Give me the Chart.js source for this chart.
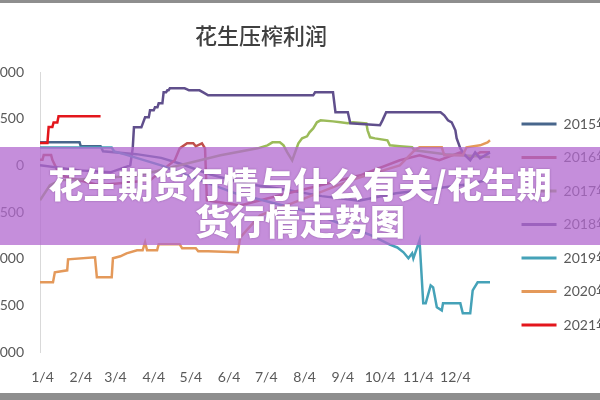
<!DOCTYPE html>
<html>
<head>
<meta charset="utf-8">
<script src="https://cdn.jsdelivr.net/npm/chart.js@4.4.1/dist/chart.umd.min.js"></script>
<style>
  html, body { margin: 0; padding: 0; }
  body { width: 600px; height: 400px; overflow: hidden; background: #8e8e8e; position: relative; }
  #panel { position: absolute; left: 0; top: 3px; width: 600px; height: 390px; background: #fff; overflow: hidden; }
  #c { position: absolute; left: -20px; top: 0; }
  #title { position: absolute; left: 0; width: 522px; top: 17px; text-align: center;
    font: 500 22px "Noto Sans CJK SC"; color: #404040; line-height: 28px; }
  #banner { position: absolute; left: 0; top: 147px; width: 600px; height: 98px; box-sizing: border-box;
    padding-top: 17px; background: rgba(178, 104, 207, 0.75); color: #fff; text-align: center;
    font: 900 35px "Noto Sans CJK SC"; line-height: 37px; text-shadow: 0 0 2px rgba(90, 40, 110, 0.5); }
</style>
</head>
<body>
<div id="panel">
  <canvas id="c" width="640" height="390"></canvas>
  <div id="title">花生压榨利润</div>
</div>
<div id="banner">花生期货行情与什么有关/花生期<br>货行情走势图</div>
<script>
// x = day of year, y = profit
const tickDays = [4, 35, 63, 94, 124, 155, 185, 216, 247, 277, 308, 338];
const tickLabels = ['1/4', '2/4', '3/4', '4/4', '5/4', '6/4', '7/4', '8/4', '9/4', '10/4', '11/4', '12/4'];
const years = ['2015年', '2016年', '2017年', '2018年', '2019年', '2020年', '2021年'];

const days2015 = [2, 34, 35, 51, 53, 80, 100, 115, 140, 170, 200, 230, 260, 290, 320, 350, 366];
const vals2015 = [246, 246, 204, 204, 150, 120, 80, 20, -100, -200, -260, -330, -380, -300, -250, -200, -150];

const days2016 = [2, 4, 5, 11, 12, 18, 50, 91, 111, 115, 121, 126, 128, 133, 135.5, 137, 164, 196, 229, 261, 293, 309, 325, 342, 350, 358, 366];
const vals2016 = [60, 60, 110, 110, 60, -107, -214, -161, 54, 182, 236, 236, 204, 236, 182, -375, -429, -321, -214, -107, 54, 107, 54, 139, 75, 139, 139];

const days2017 = [2, 10, 18, 50, 83, 115, 148, 178, 186, 190, 196, 199, 202, 206, 211, 214, 218, 220, 223, 226, 229, 239, 245, 251, 255, 266, 267, 269, 273, 283, 285, 293, 303, 305, 330, 366];
const vals2017 = [-375, -214, -161, -139, -107, 0, 107, 182, 214, 246, 246, 214, 139, 54, 236, 289, 311, 354, 396, 461, 482, 471, 461, 450, 461, 450, 375, 300, 289, 268, 214, 204, 193, 161, 120, 90];

const days2018 = [2, 34, 59, 75, 77, 78, 84, 87, 90, 91, 94, 95, 97, 98, 101, 102, 104, 105, 106, 107, 119, 121, 122.5, 131, 134, 138, 223, 224.5, 239, 241, 251, 253, 277, 279, 282, 326, 329, 332, 335, 338, 339, 342, 346, 350, 354, 358, 366];
const vals2018 = [0, -54, -75, 0, 182, 407, 407, 514, 514, 589, 589, 621, 621, 664, 664, 782, 782, 804, 804, 825, 825, 814, 804, 804, 782, 750, 750, 782, 782, 568, 568, 450, 429, 482, 568, 568, 536, 482, 461, 375, 290, 182, 107, 54, 139, 75, 139];

const days2019 = [2, 60, 62, 70, 100, 130, 160, 190, 220, 250, 270, 285, 291, 296, 300, 303, 304, 309, 312, 314, 318, 320, 323, 327, 328, 342, 344, 350, 352, 356, 366];
const vals2019 = [190, 190, 150, 120, 0, -150, -300, -400, -500, -650, -750, -850, -880, -932, -996, -943, -996, -804, -1479, -1479, -1286, -1307, -1521, -1554, -1479, -1479, -1586, -1586, -1339, -1254, -1254];

const days2020 = [2, 12.5, 14, 24, 24.7, 46.5, 48, 60, 61, 67, 72, 80.5, 85, 87, 88.6, 96.7, 98, 115, 117, 128, 130, 138, 162, 164, 180, 212, 253, 293, 305, 309, 327, 329, 344, 347, 358, 364, 366];
const vals2020 = [-1254, -1254, -1146, -1125, -1007, -986, -1200, -1200, -996, -975, -943, -911, -911, -825, -911, -911, -846, -846, -889, -889, -921, -921, -932, -771, -536, -375, -161, 0, 161, 193, 193, 107, 107, 193, 214, 246, 268];

const days2021 = [2, 8, 9, 12, 13, 16, 17, 51];
const vals2021 = [240, 240, 410, 410, 460, 460, 525, 525];

const series = [
  [days2015, vals2015], [days2016, vals2016], [days2017, vals2017], [days2018, vals2018],
  [days2019, vals2019], [days2020, vals2020], [days2021, vals2021]
];
const lineColors = ['#48668c', '#c0504d', '#9bbb59', '#604f8c', '#45a2b8', '#e4995a', '#e3161c'];

const datasets = years.map((y, i) => ({
  label: y,
  data: series[i][0].map((d, j) => ({ x: d, y: series[i][1][j] })),
  borderColor: lineColors[i],
  backgroundColor: lineColors[i],
  borderWidth: 2.5,
  pointRadius: 0,
  tension: 0,
  order: -i
}));

const tickFont = { family: 'Lato, sans-serif', size: 14 };

// lift the legend a little, the x axis labels need the room below
const legendShift = {
  id: 'legendShift',
  afterLayout: (c) => { c.legend.bottom -= 16; }
};

const chart = new Chart(document.getElementById('c'), {
  type: 'line',
  data: { datasets },
  plugins: [legendShift],
  options: {
    responsive: false,
    animation: false,
    layout: { padding: { top: 69, bottom: 0, left: 0, right: 0 } },
    plugins: {
      tooltip: { enabled: false },
      legend: {
        position: 'right',
        labels: {
          boxWidth: 35,
          boxHeight: 3,
          padding: 19.5,
          color: '#595959',
          font: { family: 'Lato, "Noto Sans CJK SC", sans-serif', size: 14 },
          sort: (a, b) => a.datasetIndex - b.datasetIndex,
          generateLabels: (c) => Chart.defaults.plugins.legend.labels.generateLabels(c)
            .map(l => ({ ...l, lineWidth: 0 }))
        }
      }
    },
    scales: {
      x: {
        type: 'linear',
        min: 2,
        max: 374,
        grid: { display: false, drawTicks: false },
        border: { display: false },
        afterBuildTicks: (s) => { s.ticks = tickDays.map(v => ({ value: v })); },
        afterTickToLabelConversion: (s) => { s.ticks.forEach((t, i) => { t.label = tickLabels[i]; }); },
        afterFit: (s) => { s.height = 41; },
        ticks: {
          autoSkip: false,
          maxRotation: 0,
          padding: 17,
          color: '#595959',
          font: tickFont
        }
      },
      y: {
        min: -2000,
        max: 1000,
        afterFit: (s) => { s.width = 60; },
        grid: { display: false, drawTicks: false },
        border: { display: true, color: '#d9d9d9', width: 1 },
        ticks: { stepSize: 500, padding: 16, color: '#595959', font: tickFont }
      }
    }
  }
});

// keep 1/4 .. 12/4 at the reference spacing whatever width the legend takes
const pxPerDay = 450 / 364;
chart.options.scales.x.max = 2 + (chart.chartArea.right - chart.chartArea.left) / pxPerDay;
chart.update('none');
</script>
</body>
</html>
